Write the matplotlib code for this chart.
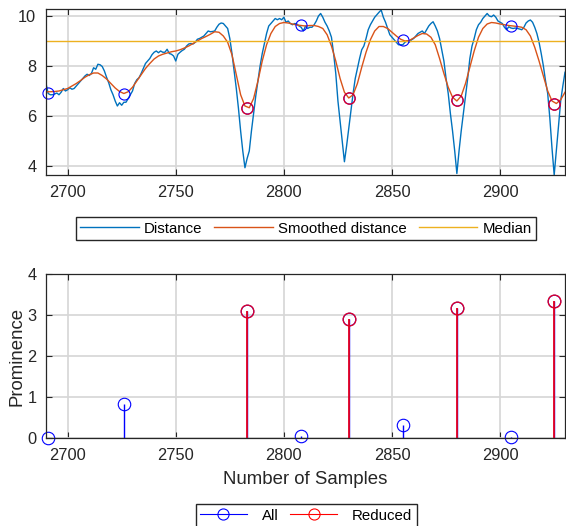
import numpy as np
import matplotlib.pyplot as plt
from matplotlib.lines import Line2D
from matplotlib.legend_handler import HandlerLine2D

plt.rcParams['font.family'] = ['Liberation Sans', 'DejaVu Sans']

# raw distance signal, one value per sample (2690..2930)
first_sample = 2690
distance = [
    7.3, 6.9, 6.85, 6.85, 6.88, 6.92, 6.85, 6.95, 7.1, 7.0,
    7.05, 7.13, 7.07, 7.1, 7.2, 7.3, 7.4, 7.5, 7.6, 7.67,
    7.62, 7.7, 7.93, 7.87, 8.07, 8.05, 7.98, 7.8, 7.55, 7.33,
    7.05, 6.85, 6.6, 6.4, 6.53, 6.43, 6.55, 6.55, 6.7, 6.85,
    7.0, 7.3, 7.45, 7.53, 7.7, 7.9, 8.1, 8.2, 8.3, 8.45,
    8.55, 8.6, 8.53, 8.6, 8.55, 8.55, 8.67, 8.5, 8.47, 8.4,
    8.2, 8.47, 8.55, 8.62, 8.67, 8.8, 8.88, 8.9, 8.88, 8.95,
    9.07, 9.1, 9.15, 9.2, 9.3, 9.4, 9.37, 9.38, 9.4, 9.55,
    9.67, 9.72, 9.7, 9.6, 9.5, 9.1, 8.5, 7.8, 7.1, 6.3,
    5.4, 4.6, 3.93, 4.3, 4.6, 5.4, 6.1, 6.8, 7.4, 8.0,
    8.5, 8.9, 9.3, 9.6, 9.7, 9.8, 9.9, 9.85, 9.9, 9.85,
    9.95, 9.75, 9.8, 9.7, 9.65, 9.7, 9.68, 9.6, 9.55, 9.4,
    9.6, 9.5, 9.55, 9.55, 9.65, 9.8, 10.0, 10.1, 9.95, 9.75,
    9.6, 9.4, 9.15, 8.5, 7.7, 6.6, 5.8, 5.0, 4.17, 4.8,
    5.5, 6.2, 6.9, 7.5, 7.9, 8.3, 8.65, 8.8, 9.1, 9.45,
    9.65, 9.8, 9.95, 10.05, 10.15, 10.24, 9.95, 9.75, 9.5, 9.25,
    9.15, 9.05, 8.95, 8.85, 8.85, 8.85, 8.95, 9.0, 8.95, 9.05,
    9.1, 9.2, 9.3, 9.35, 9.4, 9.3, 9.45, 9.6, 9.7, 9.77,
    9.6, 9.4, 9.1, 8.65, 8.2, 7.5, 6.9, 6.1, 5.4, 4.6,
    3.7, 4.6, 5.4, 6.1, 6.8, 7.5, 8.3, 8.8, 9.1, 9.45,
    9.65, 9.75, 9.9, 10.0, 10.1, 10.0, 9.97, 10.04, 9.95, 9.8,
    9.75, 9.7, 9.55, 9.45, 9.57, 9.52, 9.5, 9.52, 9.5, 9.48,
    9.45, 9.55, 9.72, 9.8, 9.84, 9.75, 9.55, 9.3, 8.95, 8.5,
    8.0, 7.4, 6.9, 5.9, 4.7, 3.64, 4.6, 5.6, 6.6, 7.2,
    7.75,
]

# smoothed distance, read every second sample
smooth_step = 2
smoothed = [
    6.97, 6.97, 6.98, 7.0, 7.05,
    7.1, 7.2, 7.3, 7.42, 7.55,
    7.65, 7.72, 7.72, 7.62, 7.48,
    7.3, 7.12, 6.98, 6.9, 6.97,
    7.15, 7.4, 7.65, 7.9, 8.1,
    8.28, 8.4, 8.47, 8.52, 8.57,
    8.6, 8.65, 8.72, 8.8, 8.9,
    9.0, 9.1, 9.18, 9.27, 9.37,
    9.35, 9.2, 8.95, 8.45, 7.65,
    6.85, 6.4, 6.33, 6.7, 7.4,
    8.2, 8.85, 9.3, 9.58, 9.7,
    9.74, 9.72, 9.68, 9.64, 9.62,
    9.6, 9.62, 9.62, 9.58, 9.5,
    9.25, 8.8, 8.2, 7.5, 6.95,
    6.72, 6.85, 7.3, 7.95, 8.55,
    9.05, 9.4, 9.58, 9.58, 9.5,
    9.35, 9.2, 9.07, 9.0, 9.02,
    9.12, 9.22, 9.3, 9.28, 9.15,
    8.85, 8.3, 7.7, 7.15, 6.75,
    6.6, 6.8, 7.3, 7.95, 8.6,
    9.15, 9.5, 9.68, 9.74, 9.72,
    9.68, 9.65, 9.62, 9.6, 9.58,
    9.55, 9.45, 9.2, 8.75, 8.2,
    7.6, 7.0, 6.6, 6.5, 6.65,
    6.95,
]
median_value = 9.0

# detected peaks (on the inverted signal)
peak_x = [2691, 2726, 2783, 2808, 2830, 2855, 2880, 2905, 2925]
peak_val = [6.93, 6.88, 6.3, 9.62, 6.7, 9.02, 6.62, 9.6, 6.48]
prominence = [0.0, 0.83, 3.1, 0.04, 2.9, 0.32, 3.16, 0.015, 3.34]
reduced = [2, 4, 6, 8]

BLUE = '#0072BD'
ORANGE = '#D95319'
YELLOW = '#EDB120'
DARK = '#262626'
RED = '#e8001c'

samples = first_sample + np.arange(len(distance))
smooth_x = first_sample + smooth_step * np.arange(len(smoothed))
red_x = [peak_x[i] for i in reduced]
red_val = [peak_val[i] for i in reduced]
red_prom = [prominence[i] for i in reduced]


def style(ax):
    ax.grid(True, color='#d6d6d6', linewidth=1.2)
    ax.set_axisbelow(True)
    ax.tick_params(direction='in', length=4.5, width=0.8, top=True, right=True,
                   labelsize=11.8, colors=DARK, pad=7)
    for s in ax.spines.values():
        s.set_color(DARK)
        s.set_linewidth(0.9)


class EndMarkerHandler(HandlerLine2D):
    def get_xdata(self, legend, xdescent, ydescent, width, height, fontsize):
        return [-xdescent, width - xdescent], [width - xdescent - 0.2 * fontsize]


fig = plt.figure(figsize=(5.66, 5.26), dpi=100)
W, H = 566, 526
ax1 = fig.add_axes([46 / W, 1 - 175 / H, 519 / W, 166 / H])
ax2 = fig.add_axes([46 / W, 1 - 438 / H, 519 / W, 164 / H])

# top panel
ax1.plot(samples, distance, color=BLUE, lw=1.0, label='Distance')
ax1.plot(smooth_x, smoothed, color=ORANGE, lw=1.0, label='Smoothed distance')
ax1.axhline(median_value, color=YELLOW, lw=1.0, label='Median')
ax1.plot(peak_x, peak_val, 'o', mfc='none', mec='blue', ms=8, mew=0.8, clip_on=False)
ax1.plot(red_x, red_val, 'o', mfc='none', mec=RED, ms=8.2, mew=0.9, clip_on=False)
ax1.set_xlim(2690, 2930)
ax1.set_ylim(3.64, 10.28)
ax1.set_yticks([4, 6, 8, 10])
ax1.set_xticks([2700, 2750, 2800, 2850, 2900])
style(ax1)

fig.legend(loc='center', bbox_to_anchor=(306 / W, 1 - 228.5 / H), ncol=3,
           handles=ax1.get_lines()[:3], fontsize=10.8, frameon=True, fancybox=False,
           edgecolor=DARK, framealpha=1, handlelength=3.9, handletextpad=0.35,
           columnspacing=0.8, borderpad=0.3, borderaxespad=0)

# bottom panel
ml, sl, bl = ax2.stem(peak_x, prominence, linefmt='-', basefmt=' ')
sl.set_color('blue')
sl.set_linewidth(1.0)
ml.set_markerfacecolor('none')
ml.set_markeredgecolor('blue')
ml.set_markersize(9)
ml.set_markeredgewidth(0.8)
ml.set_clip_on(False)
ml2, sl2, bl2 = ax2.stem(red_x, red_prom, linefmt='-', basefmt=' ')
sl2.set_color(RED)
sl2.set_linewidth(1.3)
ml2.set_markerfacecolor('none')
ml2.set_markeredgecolor(RED)
ml2.set_markersize(9.2)
ml2.set_markeredgewidth(0.9)
ml2.set_clip_on(False)
ax2.set_xlim(2690, 2930)
ax2.set_ylim(0, 4)
ax2.set_yticks([0, 1, 2, 3, 4])
ax2.set_xticks([2700, 2750, 2800, 2850, 2900])
style(ax2)
ax2.set_xlabel('Number of Samples', fontsize=13.4, color=DARK, labelpad=6)
ax2.set_ylabel('Prominence', fontsize=13.4, color=DARK, labelpad=1)

h_all = Line2D([], [], color='blue', lw=0.8, marker='o', mfc='none', mec='blue', ms=8, mew=0.8)
h_red = Line2D([], [], color='red', lw=0.8, marker='o', mfc='none', mec='red', ms=8, mew=0.8)
fig.legend(handles=[h_all, h_red], labels=['All', 'Reduced'], loc='center',
           bbox_to_anchor=(306 / W, 1 - 515.5 / H), ncol=2, fontsize=10.8,
           frameon=True, fancybox=False, edgecolor=DARK, framealpha=1,
           handlelength=3.1, handletextpad=1.0, columnspacing=0.8,
           borderpad=0.3, borderaxespad=0, numpoints=1,
           handler_map={Line2D: EndMarkerHandler()})

fig.savefig('out.png', dpi=100)
